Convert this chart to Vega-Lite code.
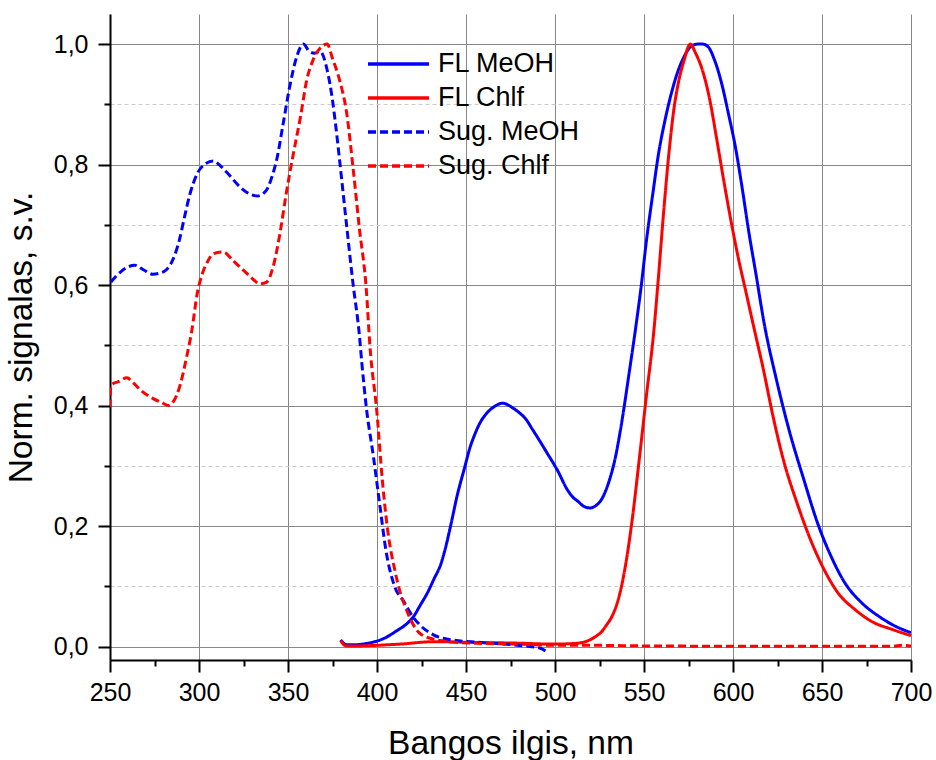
{
  "$schema": "https://vega.github.io/schema/vega-lite/v6.json",
  "width": 801,
  "height": 646,
  "autosize": {"type": "none"},
  "padding": {"left": 110, "top": 14, "right": 25, "bottom": 100},
  "background": "white",
  "config": {
    "view": {"stroke": null},
    "font": "Liberation Sans",
    "legend": {
      "orient": "none",
      "legendX": 256,
      "legendY": 33,
      "title": null,
      "padding": 0,
      "symbolType": "stroke",
      "symbolSize": 3721,
      "symbolStrokeWidth": 3.5,
      "labelFontSize": 27,
      "labelColor": "black",
      "labelOffset": 7,
      "clipHeight": 34,
      "rowPadding": 0,
      "labelLimit": 400
    }
  },
  "data": {
    "values": [
      {"s":"FL MeOH","x":379.6,"y":0.011},{"s":"FL MeOH","x":381,"y":0.006},{"s":"FL MeOH","x":383,"y":0.003},{"s":"FL MeOH","x":388,"y":0.003},{"s":"FL MeOH","x":394,"y":0.005},{"s":"FL MeOH","x":400,"y":0.009},{"s":"FL MeOH","x":405,"y":0.015},{"s":"FL MeOH","x":411,"y":0.026},{"s":"FL MeOH","x":416,"y":0.036},{"s":"FL MeOH","x":420.6,"y":0.05},{"s":"FL MeOH","x":424,"y":0.067},{"s":"FL MeOH","x":428.3,"y":0.089},{"s":"FL MeOH","x":432,"y":0.112},{"s":"FL MeOH","x":436,"y":0.138},{"s":"FL MeOH","x":439,"y":0.17},{"s":"FL MeOH","x":441.7,"y":0.205},{"s":"FL MeOH","x":445,"y":0.25},{"s":"FL MeOH","x":449.4,"y":0.299},{"s":"FL MeOH","x":452,"y":0.328},{"s":"FL MeOH","x":455.2,"y":0.354},{"s":"FL MeOH","x":458,"y":0.372},{"s":"FL MeOH","x":461,"y":0.385},{"s":"FL MeOH","x":465.8,"y":0.398},{"s":"FL MeOH","x":470.6,"y":0.404},{"s":"FL MeOH","x":473,"y":0.402},{"s":"FL MeOH","x":476.3,"y":0.396},{"s":"FL MeOH","x":480,"y":0.388},{"s":"FL MeOH","x":484,"y":0.376},{"s":"FL MeOH","x":487,"y":0.362},{"s":"FL MeOH","x":489.8,"y":0.349},{"s":"FL MeOH","x":495.6,"y":0.321},{"s":"FL MeOH","x":501.3,"y":0.293},{"s":"FL MeOH","x":507,"y":0.26},{"s":"FL MeOH","x":510,"y":0.248},{"s":"FL MeOH","x":512.9,"y":0.241},{"s":"FL MeOH","x":516,"y":0.233},{"s":"FL MeOH","x":519.6,"y":0.23},{"s":"FL MeOH","x":523,"y":0.234},{"s":"FL MeOH","x":526.3,"y":0.245},{"s":"FL MeOH","x":530,"y":0.271},{"s":"FL MeOH","x":534,"y":0.315},{"s":"FL MeOH","x":537.9,"y":0.38},{"s":"FL MeOH","x":541.7,"y":0.455},{"s":"FL MeOH","x":545.6,"y":0.535},{"s":"FL MeOH","x":548.5,"y":0.6},{"s":"FL MeOH","x":551.3,"y":0.672},{"s":"FL MeOH","x":555.2,"y":0.757},{"s":"FL MeOH","x":558,"y":0.815},{"s":"FL MeOH","x":561.9,"y":0.875},{"s":"FL MeOH","x":565.7,"y":0.922},{"s":"FL MeOH","x":568.6,"y":0.951},{"s":"FL MeOH","x":572.5,"y":0.979},{"s":"FL MeOH","x":576.3,"y":0.996},{"s":"FL MeOH","x":580,"y":1.0},{"s":"FL MeOH","x":583,"y":1.0},{"s":"FL MeOH","x":585.9,"y":0.996},{"s":"FL MeOH","x":589.7,"y":0.973},{"s":"FL MeOH","x":593.6,"y":0.935},{"s":"FL MeOH","x":597.4,"y":0.885},{"s":"FL MeOH","x":601.3,"y":0.83},{"s":"FL MeOH","x":605,"y":0.764},{"s":"FL MeOH","x":609,"y":0.686},{"s":"FL MeOH","x":612.8,"y":0.62},{"s":"FL MeOH","x":617.6,"y":0.535},{"s":"FL MeOH","x":624.4,"y":0.443},{"s":"FL MeOH","x":632,"y":0.354},{"s":"FL MeOH","x":639.8,"y":0.277},{"s":"FL MeOH","x":647.5,"y":0.205},{"s":"FL MeOH","x":655.2,"y":0.149},{"s":"FL MeOH","x":663,"y":0.105},{"s":"FL MeOH","x":672.5,"y":0.072},{"s":"FL MeOH","x":682,"y":0.05},{"s":"FL MeOH","x":691.7,"y":0.033},{"s":"FL MeOH","x":700,"y":0.023},
      {"s":"FL Chlf","x":379.6,"y":0.01},{"s":"FL Chlf","x":381,"y":0.004},{"s":"FL Chlf","x":383,"y":0.001},{"s":"FL Chlf","x":390,"y":0.001},{"s":"FL Chlf","x":400,"y":0.002},{"s":"FL Chlf","x":413,"y":0.004},{"s":"FL Chlf","x":432,"y":0.008},{"s":"FL Chlf","x":451,"y":0.007},{"s":"FL Chlf","x":480,"y":0.0055},{"s":"FL Chlf","x":499,"y":0.004},{"s":"FL Chlf","x":512.9,"y":0.0055},{"s":"FL Chlf","x":517,"y":0.008},{"s":"FL Chlf","x":519.6,"y":0.011},{"s":"FL Chlf","x":523,"y":0.017},{"s":"FL Chlf","x":526.3,"y":0.025},{"s":"FL Chlf","x":529,"y":0.036},{"s":"FL Chlf","x":532,"y":0.05},{"s":"FL Chlf","x":536,"y":0.083},{"s":"FL Chlf","x":539.8,"y":0.138},{"s":"FL Chlf","x":543.6,"y":0.216},{"s":"FL Chlf","x":547.5,"y":0.315},{"s":"FL Chlf","x":551.3,"y":0.415},{"s":"FL Chlf","x":555.6,"y":0.526},{"s":"FL Chlf","x":558,"y":0.609},{"s":"FL Chlf","x":561,"y":0.72},{"s":"FL Chlf","x":564,"y":0.819},{"s":"FL Chlf","x":566.7,"y":0.89},{"s":"FL Chlf","x":569.6,"y":0.94},{"s":"FL Chlf","x":572.5,"y":0.973},{"s":"FL Chlf","x":576,"y":1.0},{"s":"FL Chlf","x":579,"y":0.985},{"s":"FL Chlf","x":583,"y":0.955},{"s":"FL Chlf","x":587,"y":0.907},{"s":"FL Chlf","x":590.7,"y":0.845},{"s":"FL Chlf","x":594.6,"y":0.777},{"s":"FL Chlf","x":598.4,"y":0.714},{"s":"FL Chlf","x":603.2,"y":0.642},{"s":"FL Chlf","x":607,"y":0.592},{"s":"FL Chlf","x":612,"y":0.526},{"s":"FL Chlf","x":616.7,"y":0.465},{"s":"FL Chlf","x":622.5,"y":0.382},{"s":"FL Chlf","x":628.3,"y":0.31},{"s":"FL Chlf","x":636,"y":0.238},{"s":"FL Chlf","x":643.6,"y":0.177},{"s":"FL Chlf","x":651.3,"y":0.127},{"s":"FL Chlf","x":659,"y":0.089},{"s":"FL Chlf","x":668.7,"y":0.061},{"s":"FL Chlf","x":678.3,"y":0.041},{"s":"FL Chlf","x":689.8,"y":0.028},{"s":"FL Chlf","x":700,"y":0.018},
      {"s":"Sug. MeOH","x":250.5,"y":0.605},{"s":"Sug. MeOH","x":256,"y":0.622},{"s":"Sug. MeOH","x":260,"y":0.63},{"s":"Sug. MeOH","x":264,"y":0.633},{"s":"Sug. MeOH","x":269,"y":0.625},{"s":"Sug. MeOH","x":274,"y":0.618},{"s":"Sug. MeOH","x":280,"y":0.622},{"s":"Sug. MeOH","x":285,"y":0.64},{"s":"Sug. MeOH","x":289,"y":0.675},{"s":"Sug. MeOH","x":292,"y":0.715},{"s":"Sug. MeOH","x":295,"y":0.752},{"s":"Sug. MeOH","x":299,"y":0.785},{"s":"Sug. MeOH","x":303,"y":0.8},{"s":"Sug. MeOH","x":308,"y":0.806},{"s":"Sug. MeOH","x":312,"y":0.798},{"s":"Sug. MeOH","x":316,"y":0.786},{"s":"Sug. MeOH","x":323,"y":0.763},{"s":"Sug. MeOH","x":328,"y":0.752},{"s":"Sug. MeOH","x":333,"y":0.748},{"s":"Sug. MeOH","x":338,"y":0.758},{"s":"Sug. MeOH","x":341,"y":0.78},{"s":"Sug. MeOH","x":344,"y":0.813},{"s":"Sug. MeOH","x":347,"y":0.863},{"s":"Sug. MeOH","x":351,"y":0.93},{"s":"Sug. MeOH","x":355,"y":0.98},{"s":"Sug. MeOH","x":358.6,"y":1.0},{"s":"Sug. MeOH","x":362,"y":0.988},{"s":"Sug. MeOH","x":365,"y":0.985},{"s":"Sug. MeOH","x":368,"y":0.988},{"s":"Sug. MeOH","x":372,"y":0.957},{"s":"Sug. MeOH","x":375,"y":0.907},{"s":"Sug. MeOH","x":377,"y":0.86},{"s":"Sug. MeOH","x":379,"y":0.807},{"s":"Sug. MeOH","x":383,"y":0.697},{"s":"Sug. MeOH","x":386.5,"y":0.603},{"s":"Sug. MeOH","x":390,"y":0.52},{"s":"Sug. MeOH","x":391.5,"y":0.47},{"s":"Sug. MeOH","x":394,"y":0.397},{"s":"Sug. MeOH","x":398,"y":0.315},{"s":"Sug. MeOH","x":401.7,"y":0.232},{"s":"Sug. MeOH","x":405,"y":0.16},{"s":"Sug. MeOH","x":410,"y":0.099},{"s":"Sug. MeOH","x":415,"y":0.075},{"s":"Sug. MeOH","x":420,"y":0.05},{"s":"Sug. MeOH","x":424,"y":0.036},{"s":"Sug. MeOH","x":432,"y":0.019},{"s":"Sug. MeOH","x":442,"y":0.011},{"s":"Sug. MeOH","x":457,"y":0.007},{"s":"Sug. MeOH","x":476,"y":0.003},{"s":"Sug. MeOH","x":486,"y":0.0},{"s":"Sug. MeOH","x":491,"y":-0.002},{"s":"Sug. MeOH","x":495.6,"y":-0.009},
      {"s":"Sug. Chlf","x":250,"y":0.397},{"s":"Sug. Chlf","x":250.5,"y":0.434},{"s":"Sug. Chlf","x":255,"y":0.44},{"s":"Sug. Chlf","x":259.5,"y":0.446},{"s":"Sug. Chlf","x":263,"y":0.438},{"s":"Sug. Chlf","x":267,"y":0.426},{"s":"Sug. Chlf","x":274,"y":0.412},{"s":"Sug. Chlf","x":279,"y":0.405},{"s":"Sug. Chlf","x":283,"y":0.4},{"s":"Sug. Chlf","x":285.5,"y":0.406},{"s":"Sug. Chlf","x":289,"y":0.43},{"s":"Sug. Chlf","x":293,"y":0.48},{"s":"Sug. Chlf","x":296,"y":0.525},{"s":"Sug. Chlf","x":299,"y":0.586},{"s":"Sug. Chlf","x":302,"y":0.62},{"s":"Sug. Chlf","x":305,"y":0.64},{"s":"Sug. Chlf","x":308,"y":0.652},{"s":"Sug. Chlf","x":313.6,"y":0.655},{"s":"Sug. Chlf","x":319,"y":0.641},{"s":"Sug. Chlf","x":323,"y":0.63},{"s":"Sug. Chlf","x":327,"y":0.619},{"s":"Sug. Chlf","x":331,"y":0.608},{"s":"Sug. Chlf","x":334,"y":0.602},{"s":"Sug. Chlf","x":338,"y":0.605},{"s":"Sug. Chlf","x":341.6,"y":0.63},{"s":"Sug. Chlf","x":345.5,"y":0.686},{"s":"Sug. Chlf","x":349,"y":0.752},{"s":"Sug. Chlf","x":353,"y":0.818},{"s":"Sug. Chlf","x":357,"y":0.879},{"s":"Sug. Chlf","x":360.5,"y":0.94},{"s":"Sug. Chlf","x":364,"y":0.973},{"s":"Sug. Chlf","x":368,"y":0.993},{"s":"Sug. Chlf","x":372,"y":1.0},{"s":"Sug. Chlf","x":375,"y":0.976},{"s":"Sug. Chlf","x":379,"y":0.94},{"s":"Sug. Chlf","x":383,"y":0.885},{"s":"Sug. Chlf","x":386.5,"y":0.796},{"s":"Sug. Chlf","x":390,"y":0.697},{"s":"Sug. Chlf","x":394,"y":0.592},{"s":"Sug. Chlf","x":396,"y":0.5},{"s":"Sug. Chlf","x":400,"y":0.387},{"s":"Sug. Chlf","x":403,"y":0.276},{"s":"Sug. Chlf","x":406,"y":0.193},{"s":"Sug. Chlf","x":410,"y":0.127},{"s":"Sug. Chlf","x":413,"y":0.09},{"s":"Sug. Chlf","x":416,"y":0.065},{"s":"Sug. Chlf","x":419,"y":0.044},{"s":"Sug. Chlf","x":424,"y":0.022},{"s":"Sug. Chlf","x":432,"y":0.012},{"s":"Sug. Chlf","x":440,"y":0.008},{"s":"Sug. Chlf","x":460,"y":0.005},{"s":"Sug. Chlf","x":480,"y":0.004},{"s":"Sug. Chlf","x":500,"y":0.002},{"s":"Sug. Chlf","x":520,"y":0.002},{"s":"Sug. Chlf","x":550,"y":0.001},{"s":"Sug. Chlf","x":600,"y":0.0005},{"s":"Sug. Chlf","x":650,"y":0.0005},{"s":"Sug. Chlf","x":690,"y":0.0005},{"s":"Sug. Chlf","x":695,"y":0.002},{"s":"Sug. Chlf","x":700,"y":0.001}
    ]
  },
  "mark": {"type": "line", "strokeWidth": 3, "clip": true, "interpolate": "monotone"},
  "encoding": {
    "x": {
      "field": "x", "type": "quantitative",
      "scale": {"domain": [250, 700], "nice": false, "zero": false},
      "axis": {
        "title": "Bangos ilgis, nm",
        "titleFontSize": 33.5, "titleFontWeight": "normal", "titleColor": "black", "titlePadding": 22,
        "values": [250,275,300,325,350,375,400,425,450,475,500,525,550,575,600,625,650,675,700],
        "labelExpr": "datum.value % 50 == 0 ? datum.label : ''",
        "labelFontSize": 25, "labelColor": "black", "labelFlush": false, "labelOverlap": false, "labelPadding": 8,
        "domainColor": "black", "domainWidth": 2,
        "tickColor": "black", "tickWidth": 2,
        "tickSize": {"condition": {"test": "datum.value % 50 != 0", "value": 6}, "value": 12},
        "grid": true, "gridColor": "#888888", "gridWidth": 1,
        "gridOpacity": {"condition": {"test": "datum.value % 50 != 0", "value": 0}, "value": 1}
      }
    },
    "y": {
      "field": "y", "type": "quantitative",
      "scale": {"domain": [-0.0224, 1.05], "nice": false, "zero": false},
      "axis": {
        "title": "Norm. signalas, s.v.",
        "titleFontSize": 33.5, "titleFontWeight": "normal", "titleColor": "black", "titlePadding": 15,
        "values": [0,0.1,0.2,0.3,0.4,0.5,0.6,0.7,0.8,0.9,1.0],
        "labelExpr": "round(datum.value*10) % 2 == 0 ? replace(format(datum.value, '.1f'), '.', ',') : ''",
        "labelFontSize": 25, "labelColor": "black", "labelOverlap": false, "labelPadding": 10,
        "domainColor": "black", "domainWidth": 2,
        "tickColor": "black", "tickWidth": 2,
        "tickSize": {"condition": {"test": "round(datum.value*10) % 2 != 0", "value": 6}, "value": 12},
        "grid": true, "gridWidth": 1,
        "gridColor": {"condition": {"test": "round(datum.value*10) % 2 != 0", "value": "#cccccc"}, "value": "#888888"},
        "gridDash": {"condition": {"test": "round(datum.value*10) % 2 != 0", "value": [4, 3]}, "value": []}
      }
    },
    "color": {
      "field": "s", "type": "nominal",
      "scale": {"domain": ["FL MeOH", "FL Chlf", "Sug. MeOH", "Sug. Chlf"], "range": ["#0000ff", "#ff0000", "#0000ff", "#ff0000"]},
      "legend": {"title": null}
    },
    "strokeDash": {
      "field": "s", "type": "nominal",
      "scale": {"domain": ["FL MeOH", "FL Chlf", "Sug. MeOH", "Sug. Chlf"], "range": [[1, 0], [1, 0], [8, 4], [8, 4]]},
      "legend": {"title": null}
    }
  }
}
